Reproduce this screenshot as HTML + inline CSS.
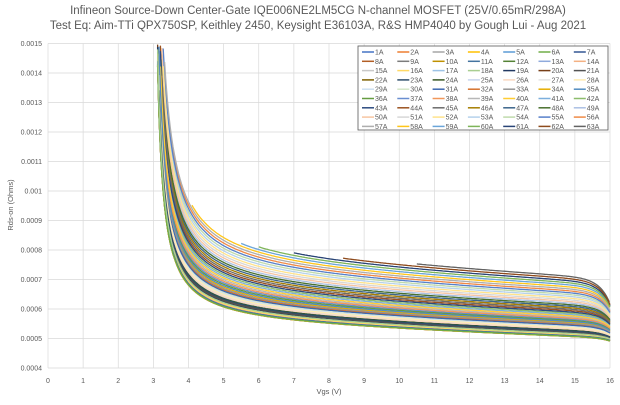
<!DOCTYPE html>
<html><head><meta charset="utf-8"><style>
body{margin:0;background:#fff;width:620px;height:400px;overflow:hidden;font-family:"Liberation Sans",sans-serif}
</style></head><body>
<svg id="s" width="620" height="400" xmlns="http://www.w3.org/2000/svg" font-family="Liberation Sans, sans-serif">
<text x="318" y="14" font-size="11.5" text-anchor="middle" fill="#595959">Infineon Source-Down Center-Gate IQE006NE2LM5CG N-channel MOSFET (25V/0.65mR/298A)</text>
<text x="318" y="29" font-size="11.5" text-anchor="middle" fill="#595959">Test Eq: Aim-TTi QPX750SP, Keithley 2450, Keysight E36103A, R&amp;S HMP4040 by Gough Lui - Aug 2021</text>
<g id="grid"></g><g id="curves"></g><g id="leg"></g>
<text x="329" y="394" font-size="7.5" text-anchor="middle" fill="#595959">Vgs (V)</text>
<text transform="translate(13,205) rotate(-90)" font-size="7.5" text-anchor="middle" fill="#595959">Rds-on (Ohms)</text>
</svg>
<script>
var NS="http://www.w3.org/2000/svg";
function el(p,t,a,txt){var e=document.createElementNS(NS,t);for(var k in a)e.setAttribute(k,a[k]);if(txt)e.textContent=txt;p.appendChild(e);return e;}
var X0=48,XS=35.125,Y0=368,YS=295000;
function px(v){return X0+v*XS}function py(r){return Y0-(r-0.0004)*YS}
var g=document.getElementById('grid');
for(var i=0;i<=16;i++){el(g,'line',{x1:px(i),x2:px(i),y1:py(0.0015),y2:Y0,stroke:'#d9d9d9','stroke-width':0.7});
el(g,'text',{x:px(i),y:383,'font-size':7,'text-anchor':'middle',fill:'#595959'},String(i));}
for(var j=4;j<=15;j++){var r=j/10000;el(g,'line',{x1:X0,x2:px(16),y1:py(r),y2:py(r),stroke:'#d9d9d9','stroke-width':0.7});
el(g,'text',{x:42,y:py(r)+2.5,'font-size':7,'text-anchor':'end',fill:'#595959'},(j==10?'0.001':r.toFixed(4)));}
var base=['#4472C4','#ED7D31','#A5A5A5','#FFC000','#5B9BD5','#70AD47'];
function mix(h,f){var n=parseInt(h.slice(1),16),c=[n>>16,(n>>8)&255,n&255];c=c.map(function(x){return Math.round(f<0?x*(1+f):x+(255-x)*f)});return 'rgb('+c.join(',')+')';}
var mods=[0,-0.25,0.4,-0.5,0.7,-0.1,0.2,-0.35,0.55,0.1,-0.4];
var cols=[];for(var k=0;k<63;k++){cols.push(mix(base[k%6],mods[Math.floor(k/6)%mods.length]));}
var cg=document.getElementById('curves');
var starts={62:10.5,61:8.4,60:7,59:6,58:5.5,57:4.1};
var order=[];for(k=0;k<63;k++)order.push(k);
order.sort(function(a,b){return ((a*37)%63)-((b*37)%63)});
for(var q=0;q<63;q++){var k=order[q];var t=Math.pow(k/62,2.3);
var A=0.00049+t*0.00019,s=0.000004+t*0.000002,B=0.00015+t*0.00015,dr=0.02+0.1*t;
var st=starts[k]||3.0;var d='';
for(var v=st;v<=16.001;v+=0.04){var R=A+s*(16-v)+B/Math.max(v-2.95,0.01);R*=1-dr*Math.exp(-(16-v)/0.3);
if(R>0.0015)continue;d+=(d?'L':'M')+px(v).toFixed(1)+','+py(R).toFixed(1);}
el(cg,'path',{d:d,fill:'none',stroke:cols[k],'stroke-width':1.3});}
var lg=document.getElementById('leg');
el(lg,'rect',{x:358,y:46,width:250,height:84,fill:'#fff',stroke:'#595959','stroke-width':0.8});
for(k=0;k<63;k++){var c=k%7,r=Math.floor(k/7);var x=362+c*35.3,y=52+r*9.3;
el(lg,'line',{x1:x,x2:x+12,y1:y,y2:y,stroke:cols[k],'stroke-width':1.5});
el(lg,'text',{x:x+13,y:y+2.5,'font-size':7,fill:'#595959'},(k+1)+'A');}
</script>
</body></html>
